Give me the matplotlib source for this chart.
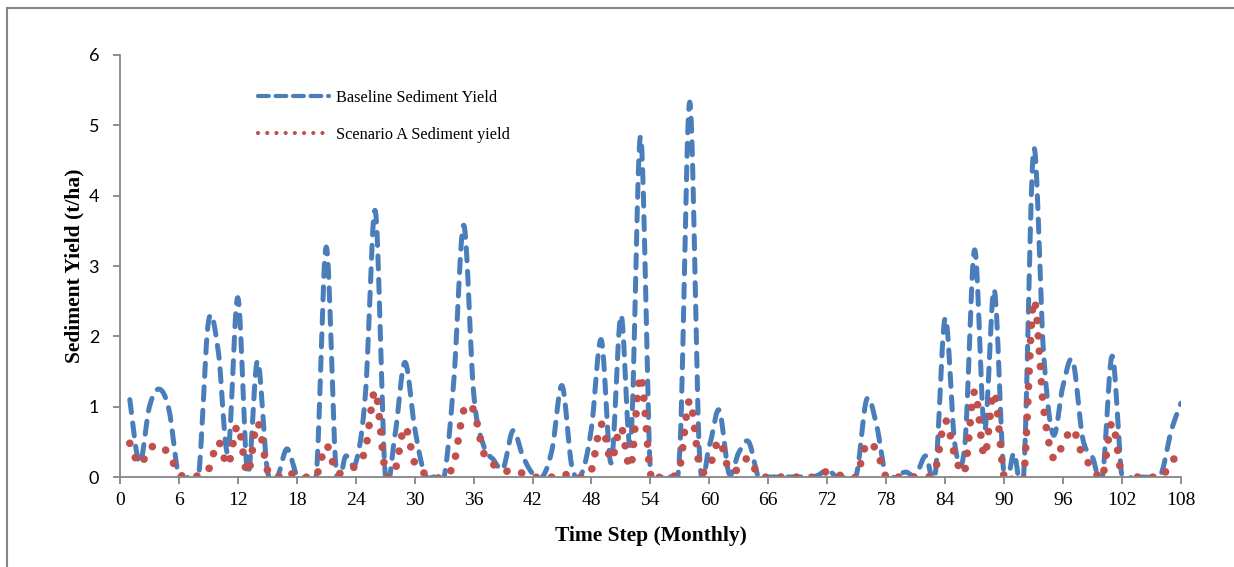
import numpy as np
import matplotlib.pyplot as plt
from matplotlib.lines import Line2D

months = np.arange(1, 109)

baseline = [
    1.1, 0.2, 1.0, 1.25, 0.95, 0.0, 0.0, 0.0, 2.2, 1.8, 0.35, 2.55,
    0.05, 1.65, 0.1, 0.0, 0.4, 0.03, 0.0, 0.05, 3.27, 0.1, 0.3, 0.2,
    1.2, 3.78, 0.05, 0.6, 1.63, 0.7, 0.05, 0.0, 0.0, 1.4, 3.58, 1.2,
    0.45, 0.25, 0.12, 0.66, 0.3, 0.05, 0.0, 0.4, 1.3, 0.15, 0.05, 0.7,
    1.95, 0.2, 2.3, 0.5, 4.84, 0.05, 0.0, 0.0, 0.4, 5.33, 0.3, 0.45,
    0.95, 0.05, 0.35, 0.5, 0.0, 0.0, 0.0, 0.0, 0.0, 0.0, 0.02, 0.1,
    0.0, 0.0, 0.05, 1.1, 0.75, 0.0, 0.02, 0.07, 0.02, 0.3, 0.05, 2.26,
    0.45, 0.45, 3.23, 0.67, 2.66, 0.0, 0.34, 0.05, 4.65, 1.8, 0.6, 1.3,
    1.65, 0.55, 0.28, 0.0, 1.72, 0.0, 0.0, 0.0, 0.0, 0.05, 0.65, 1.05,
]

scenario_a = [
    0.48, 0.18, 0.4, 0.45, 0.32, 0.05, 0.0, 0.02, 0.1, 0.5, 0.17, 0.73,
    0.05, 0.77, 0.1, 0.0, 0.08, 0.0, 0.0, 0.02, 0.45, 0.07, 0.1, 0.16,
    0.4, 1.22, 0.1, 0.1, 0.71, 0.2, 0.05, 0.0, 0.0, 0.2, 0.95, 0.95,
    0.35, 0.18, 0.08, 0.1, 0.05, 0.0, 0.0, 0.0, 0.05, 0.0, 0.0, 0.1,
    0.75, 0.24, 0.71, 0.15, 1.44, 0.05, 0.0, 0.0, 0.15, 1.09, 0.15, 0.15,
    0.52, 0.1, 0.12, 0.27, 0.02, 0.0, 0.0, 0.0, 0.0, 0.0, 0.0, 0.08,
    0.03, 0.02, 0.02, 0.47, 0.38, 0.0, 0.0, 0.0, 0.0, 0.0, 0.1, 0.8,
    0.3, 0.1, 1.22, 0.3, 1.2, 0.0, 0.0, 0.0, 2.5, 1.0, 0.27, 0.47,
    0.68, 0.3, 0.15, 0.0, 0.77, 0.0, 0.0, 0.0, 0.0, 0.0, 0.2, 0.4,
]

x_ticks = np.arange(0, 109, 6)
y_ticks = np.arange(0, 7, 1)


def smooth(x, y, n=24):
    # Catmull-Rom spline through the points, like a smoothed line chart
    x = np.asarray(x, float)
    y = np.asarray(y, float)
    px = np.concatenate([[x[0]], x, [x[-1]]])
    py = np.concatenate([[y[0]], y, [y[-1]]])
    t = np.linspace(0, 1, n, endpoint=False)
    xs, ys = [], []
    for i in range(1, len(px) - 2):
        for p, out in ((px, xs), (py, ys)):
            p0, p1, p2, p3 = p[i - 1], p[i], p[i + 1], p[i + 2]
            out.append(0.5 * (2 * p1 + (-p0 + p2) * t
                              + (2 * p0 - 5 * p1 + 4 * p2 - p3) * t**2
                              + (-p0 + 3 * p1 - 3 * p2 + p3) * t**3))
    xs.append([x[-1]])
    ys.append([y[-1]])
    return np.concatenate(xs), np.concatenate(ys)


blue = '#4a7ebb'
red = '#c0504d'
axis_grey = '#868686'

fig = plt.figure(figsize=(12.34, 5.67), dpi=100)
ax = fig.add_axes([0.0972, 0.1587, 0.8598, 0.7443])

bx, by = smooth(months, baseline)
sx, sy = smooth(months, scenario_a)

ax.plot(bx, by, color=blue, lw=3.6, dashes=(2.6, 2.1),
        dash_capstyle='round', solid_capstyle='round')
ax.plot(sx, sy, color=red, lw=5.5, linestyle=(0, (0.01, 2.0)),
        dash_capstyle='round')

ax.set_xlim(0, 108)
ax.set_ylim(0, 6)
ax.set_xticks(x_ticks)
ax.set_yticks(y_ticks)
ax.set_xticklabels([str(v) for v in x_ticks], family='Liberation Serif', fontsize=14)
ax.set_yticklabels([str(v) for v in y_ticks], family='Lato', fontsize=13)

for side in ('top', 'right'):
    ax.spines[side].set_visible(False)
for side in ('left', 'bottom'):
    ax.spines[side].set_color(axis_grey)
    ax.spines[side].set_linewidth(1.3)
ax.tick_params(axis='both', direction='out', length=5, width=1.3, color=axis_grey)
ax.tick_params(axis='x', pad=6)
ax.tick_params(axis='y', pad=10)

ax.set_xlabel('Time Step (Monthly)', family='Liberation Serif', fontsize=15.5,
              fontweight='bold', labelpad=12)
ax.set_ylabel('Sediment Yield (t/ha)', family='Liberation Serif', fontsize=15.5,
              fontweight='bold', labelpad=3)

handles = [
    Line2D([], [], color=blue, lw=3.0, dashes=(2.6, 1.6), dash_capstyle='round'),
    Line2D([], [], color=red, lw=3.0, linestyle=(0, (0.01, 2.2)), dash_capstyle='round'),
]
fig.legend(handles, ['Baseline Sediment Yield', 'Scenario A Sediment yield'],
           loc='upper left', bbox_to_anchor=(0.209, 0.842), frameon=False,
           prop={'family': 'Liberation Serif', 'size': 11.7},
           handlelength=4.4, handletextpad=0.4, labelspacing=1.3,
           borderpad=0, borderaxespad=0)

# outer chart border
fig.add_artist(Line2D([0.0057, 0.0057], [0, 0.986], color=axis_grey, lw=1.5))
fig.add_artist(Line2D([0.0057, 1.0], [0.986, 0.986], color=axis_grey, lw=1.5))

fig.savefig('out.png', dpi=100)
